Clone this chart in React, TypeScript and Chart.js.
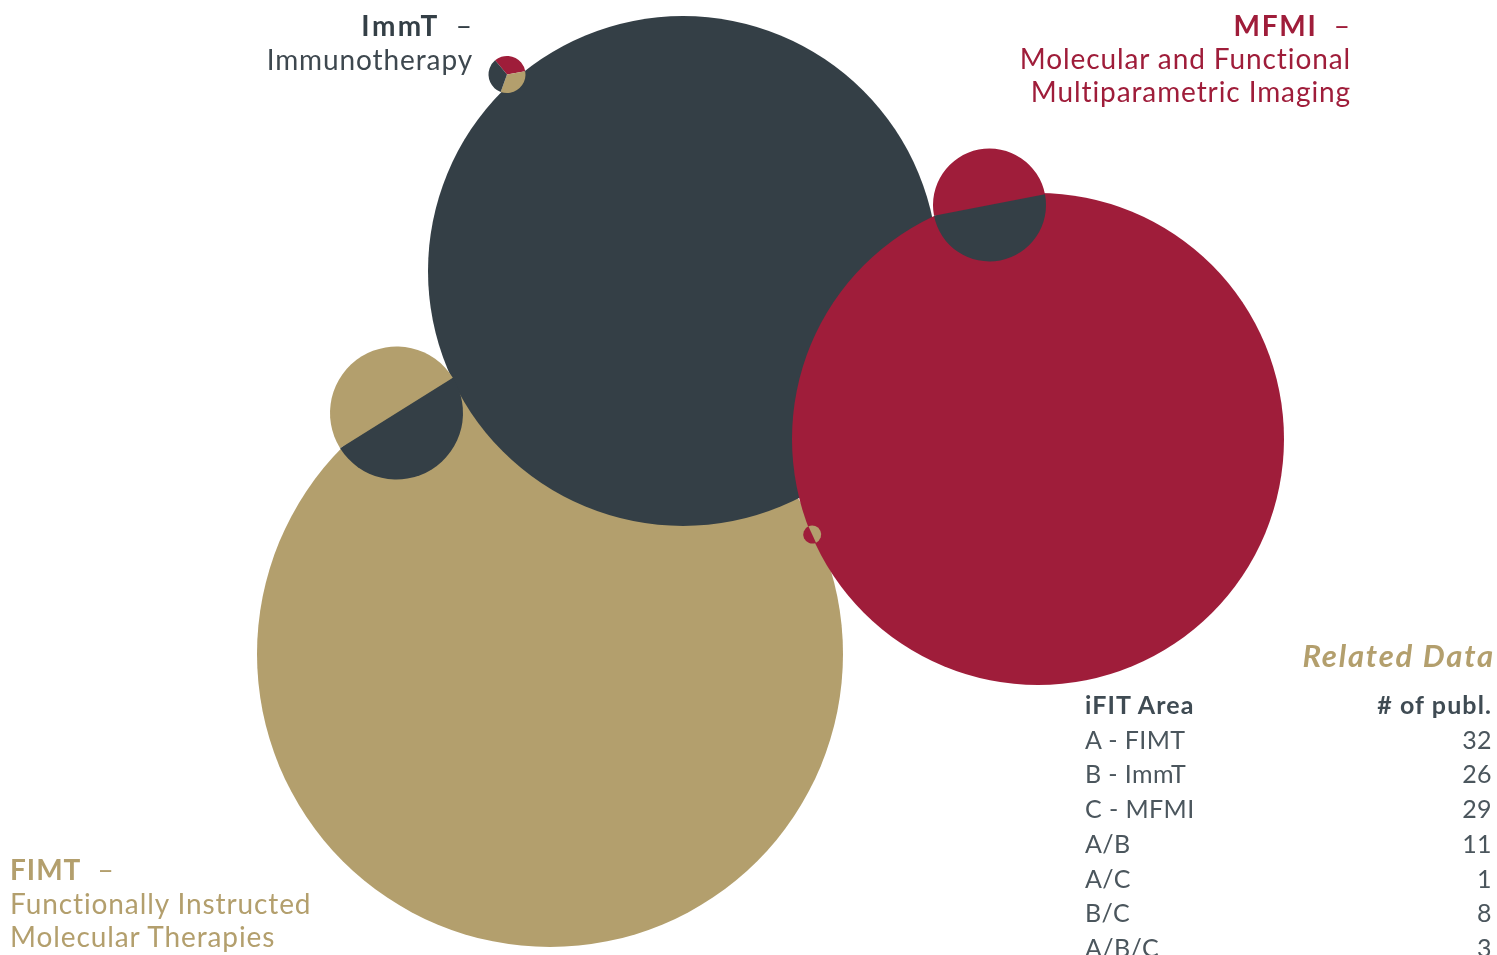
import React, { useEffect, useRef } from "react";
import { Chart, registerables } from "chart.js";

Chart.register(...registerables);

// ---- data ----
const areaLabels = ["A - FIMT", "B - ImmT", "C - MFMI", "A/B", "A/C", "B/C", "A/B/C"];
const publCounts = [32, 26, 29, 11, 1, 8, 3];

// main areas (A, B, C) positioned in an abstract layout space (x 0..149.7, y 0..95.5)
const mainAreas = ["FIMT", "ImmT", "MFMI"];
const mainX = [55.0, 68.3, 103.8];
const mainY = [65.4, 27.1, 43.9];
const mainR = [29.3, 25.5, 24.6];

// overlaps drawn as split circles
const overlapNames = ["A/B", "A/C", "B/C", "A/B/C"];
const overlapX = [39.65, 81.22, 98.95, 50.7];
const overlapY = [41.3, 53.45, 20.5, 7.45];
const overlapR = [6.65, 0.9, 5.65, 1.85];
const overlapMembers = [[0, 1], [2, 0], [2, 1], [2, 0, 1]];
const overlapStartDeg = [148, 65, 169, 230];

const areaColors = ["#B39F6D", "#343F46", "#9F1D3A"];
const textGray = "#4B565D";

const pieOverlapPlugin = {
  id: "pieOverlaps",
  afterDatasetsDraw(chart: any) {
    const { ctx } = chart;
    const xs = chart.scales.x;
    const ys = chart.scales.y;
    const unit = xs.getPixelForValue(1) - xs.getPixelForValue(0);
    overlapNames.forEach((_, i) => {
      const cx = xs.getPixelForValue(overlapX[i]);
      const cy = ys.getPixelForValue(overlapY[i]);
      const r = overlapR[i] * unit;
      const members = overlapMembers[i];
      const step = (2 * Math.PI) / members.length;
      let a = (overlapStartDeg[i] * Math.PI) / 180;
      ctx.save();
      members.forEach((m) => {
        ctx.beginPath();
        ctx.moveTo(cx, cy);
        ctx.arc(cx, cy, r, a, a + step);
        ctx.closePath();
        ctx.fillStyle = areaColors[m];
        ctx.fill();
        a += step;
      });
      ctx.restore();
    });
  },
};

function VennChart() {
  const ref = useRef<HTMLCanvasElement | null>(null);
  useEffect(() => {
    if (!ref.current) return;
    const radiusFor = (i: number) => (c: any) => {
      const s = c.chart.scales.x;
      return mainR[i] * (s.getPixelForValue(1) - s.getPixelForValue(0));
    };
    const chart = new Chart(ref.current, {
      type: "scatter",
      data: {
        datasets: mainAreas.map((name, i) => ({
          label: name,
          data: [{ x: mainX[i], y: mainY[i] }],
          backgroundColor: areaColors[i],
          borderWidth: 0,
          pointBorderWidth: 0,
          order: mainAreas.length - i,
          clip: false as any,
          pointRadius: radiusFor(i),
          pointHoverRadius: radiusFor(i),
        })),
      },
      options: {
        animation: false,
        responsive: true,
        maintainAspectRatio: false,
        events: [],
        layout: { padding: 0 },
        plugins: { legend: { display: false }, tooltip: { enabled: false } },
        scales: {
          x: { type: "linear", min: 0, max: 149.7, display: false },
          y: { type: "linear", min: 0, max: 95.5, reverse: true, display: false },
        },
      },
      plugins: [pieOverlapPlugin],
    });
    return () => chart.destroy();
  }, []);
  return <canvas ref={ref} />;
}

const font = "Lato, 'Open Sans', sans-serif";

export default function App() {
  return (
    <div
      style={{
        position: "fixed",
        left: 0,
        top: 0,
        width: 1497,
        height: 955,
        overflow: "hidden",
        background: "#fff",
        fontFamily: font,
      }}
    >
      <div style={{ position: "absolute", left: 0, top: 0, width: 1497, height: 955 }}>
        <VennChart />
      </div>

      {/* ImmT label */}
      <div
        style={{
          position: "absolute",
          right: 1497 - 473,
          top: 8,
          textAlign: "right",
          fontSize: 28,
          lineHeight: "34px",
          letterSpacing: "0.9px",
          color: "#343F46",
          whiteSpace: "nowrap",
        }}
      >
        <div>
          <b style={{ letterSpacing: "2.5px" }}>ImmT</b>&nbsp; –
        </div>
        <div style={{ color: "#3E484F" }}>Immunotherapy</div>
      </div>

      {/* MFMI label */}
      <div
        style={{
          position: "absolute",
          right: 1497 - 1351,
          top: 9,
          textAlign: "right",
          fontSize: 28,
          lineHeight: "33px",
          letterSpacing: "0.9px",
          color: "#9F1D3A",
          whiteSpace: "nowrap",
        }}
      >
        <div>
          <b style={{ letterSpacing: "1.8px" }}>MFMI</b>&nbsp; –
        </div>
        <div>Molecular and Functional</div>
        <div>Multiparametric Imaging</div>
      </div>

      {/* FIMT label */}
      <div
        style={{
          position: "absolute",
          left: 10,
          top: 853,
          textAlign: "left",
          fontSize: 28,
          lineHeight: "33.5px",
          letterSpacing: "0.9px",
          color: "#B39F6D",
          whiteSpace: "nowrap",
        }}
      >
        <div>
          <b style={{ letterSpacing: "1px" }}>FIMT</b>&nbsp; –
        </div>
        <div>Functionally Instructed</div>
        <div>Molecular Therapies</div>
      </div>

      {/* Related data table */}
      <div
        style={{
          position: "absolute",
          right: 1497 - 1495,
          top: 637,
          fontSize: 31,
          lineHeight: "36px",
          fontWeight: 700,
          fontStyle: "italic",
          letterSpacing: "1.8px",
          color: "#B39F6D",
          whiteSpace: "nowrap",
        }}
      >
        Related Data
      </div>
      <div
        style={{
          position: "absolute",
          left: 1085,
          top: 687,
          width: 407,
          fontSize: 25,
          lineHeight: "34.7px",
          letterSpacing: "0.4px",
          color: textGray,
        }}
      >
        <div
          style={{
            display: "flex",
            justifyContent: "space-between",
            fontWeight: 700,
            letterSpacing: "1.1px",
            color: "#3F4B53",
          }}
        >
          <span>iFIT Area</span>
          <span># of publ.</span>
        </div>
        {areaLabels.map((lab, i) => (
          <div key={lab} style={{ display: "flex", justifyContent: "space-between" }}>
            <span>{lab}</span>
            <span>{publCounts[i]}</span>
          </div>
        ))}
      </div>
    </div>
  );
}
